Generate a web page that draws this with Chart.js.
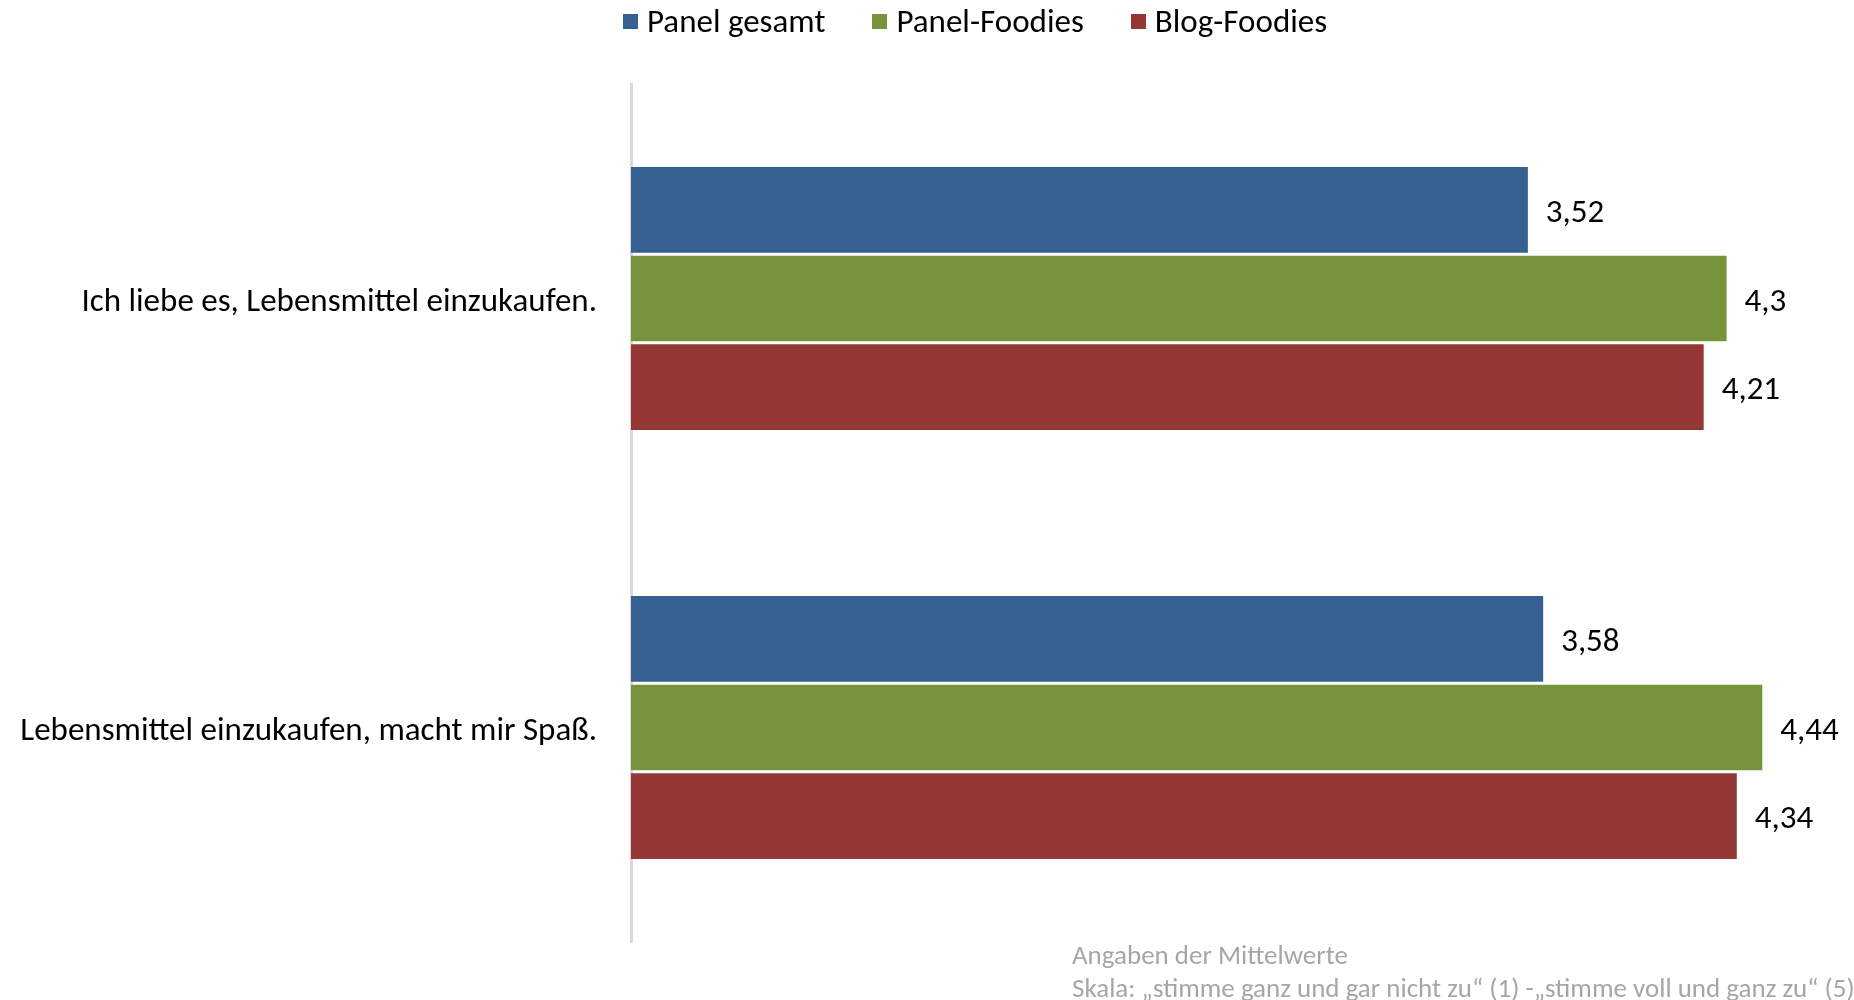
<!DOCTYPE html>
<html>
<head>
<meta charset="utf-8">
<script src="https://cdn.jsdelivr.net/npm/chart.js@4"></script>
<style>
	html, body { margin: 0; padding: 0; background: #fff; }
	#wrap { position: relative; width: 1854px; height: 1000px; }
	.note {
		position: absolute;
		left: 1072px;
		font-family: Carlito, Lato, "Open Sans", sans-serif;
		font-size: 27px;
		line-height: 32px;
		color: #a6a6a6;
		white-space: nowrap;
	}
	#legend {
		position: absolute;
		left: 623px;
		top: 1px;
		height: 40px;
		display: flex;
		align-items: center;
		font-family: Carlito, Lato, "Open Sans", sans-serif;
		font-size: 33px;
		color: #000;
		white-space: nowrap;
	}
	#legend .item { display: flex; align-items: center; margin-right: 47px; }
	#legend .box { width: 15px; height: 15px; margin-right: 9px; }
</style>
</head>
<body>
<div id="wrap">
	<div id="legend"></div>
	<canvas id="chart" width="1854" height="1000"></canvas>
	<div class="note" style="top: 939px;">Angaben der Mittelwerte</div>
	<div class="note" style="top: 972px;">Skala: „stimme ganz und gar nicht zu“ (1) -„stimme voll und ganz zu“ (5)</div>
</div>
<script>
const categories = [
	"Ich liebe es, Lebensmittel einzukaufen.",
	"Lebensmittel einzukaufen, macht mir Spaß.",
];
const seriesNames = ["Panel gesamt", "Panel-Foodies", "Blog-Foodies"];
const panelGesamt = [3.52, 3.58];
const panelFoodies = [4.3, 4.44];
const blogFoodies = [4.21, 4.34];
const colors = ["#376092", "#77933c", "#953735"];

const fontFamily = "Carlito, Lato, 'Open Sans', sans-serif";

// value labels to the right of every bar, German decimal comma
const valueLabels = {
	id: "valueLabels",
	afterDatasetsDraw(chart) {
		const c = chart.ctx;
		c.save();
		c.font = "33px " + fontFamily;
		c.fillStyle = "#000";
		c.textAlign = "left";
		c.textBaseline = "middle";
		chart.data.datasets.forEach((ds, i) => {
			chart.getDatasetMeta(i).data.forEach((bar, j) => {
				c.fillText(String(ds.data[j]).replace(".", ","), bar.x + 18, bar.y + 4);
			});
		});
		c.restore();
	},
};

const ctx = document.getElementById("chart").getContext("2d");
const chart = new Chart(ctx, {
	type: "bar",
	data: {
		labels: categories,
		datasets: [
			{ label: seriesNames[0], data: panelGesamt, backgroundColor: colors[0] },
			{ label: seriesNames[1], data: panelFoodies, backgroundColor: colors[1] },
			{ label: seriesNames[2], data: blogFoodies, backgroundColor: colors[2] },
		],
	},
	options: {
		indexAxis: "y",
		responsive: false,
		animation: false,
		categoryPercentage: 0.62,
		barPercentage: 0.966,
		layout: { padding: { left: 0, right: 0, top: 84, bottom: 58 } },
		scales: {
			x: { display: false, min: 0, max: 4.8 },
			y: {
				grid: { display: false },
				border: { display: true, color: "#d9d9d9", width: 3 },
				ticks: {
					color: "#000",
					font: { family: fontFamily, size: 33 },
					padding: 26,
					labelOffset: 4,
				},
				afterFit(scale) {
					scale.width = 631;
				},
			},
		},
		plugins: {
			legend: { display: false },
			tooltip: { enabled: false },
		},
	},
	plugins: [valueLabels],
});

// legend built from the chart's datasets
const legendEl = document.getElementById("legend");
chart.data.datasets.forEach((ds) => {
	const item = document.createElement("div");
	item.className = "item";
	const box = document.createElement("span");
	box.className = "box";
	box.style.background = ds.backgroundColor;
	const txt = document.createElement("span");
	txt.textContent = ds.label;
	item.appendChild(box);
	item.appendChild(txt);
	legendEl.appendChild(item);
});
</script>
</body>
</html>
